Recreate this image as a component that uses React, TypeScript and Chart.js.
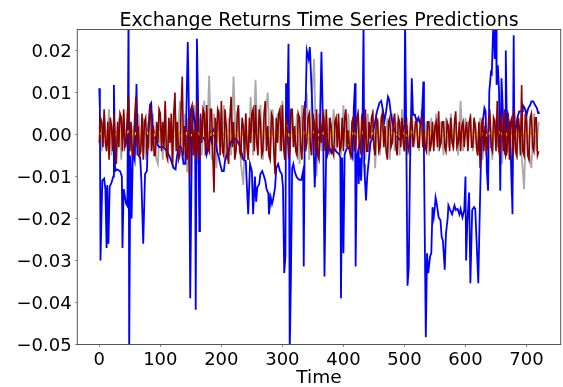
import React, { useEffect, useRef } from "react";
import { Chart, registerables } from "chart.js";

Chart.register(...registerables);

// Predicted returns (blue), sampled at the listed time steps
const blueTime = [
  0, 1, 2, 5, 8, 10, 12, 13, 15, 17, 20, 23, 24, 26, 29, 34, 37, 38, 40, 44, 46, 48, 49, 51, 53, 55, 58, 61, 63, 67,
  69, 72, 75, 78, 80, 83, 85, 87, 90, 95, 98, 101, 105, 111, 116, 122, 125, 127, 130, 133, 136, 138, 141, 145, 147,
  149, 152, 154, 157, 158, 160, 162, 164, 165, 168, 171, 174, 176, 179, 182, 184, 187, 190, 193, 196, 198, 201, 204,
  206, 209, 212, 215, 220, 225, 231, 236, 240, 244, 247, 250, 252, 255, 257, 259, 262, 264, 267, 270, 272, 274, 277,
  278, 281, 283, 285, 288, 290, 293, 296, 299, 301, 303, 305, 306, 308, 310, 311, 312, 314, 316, 318, 320, 323, 326,
  328, 331, 334, 335, 337, 338, 340, 343, 345, 348, 351, 353, 356, 358, 361, 364, 367, 369, 372, 374, 377, 380, 383,
  388, 393, 395, 396, 398, 400, 402, 405, 407, 410, 413, 415, 417, 419, 420, 422, 424, 425, 427, 429, 431, 433, 434,
  435, 437, 439, 442, 444, 447, 449, 452, 455, 459, 462, 465, 467, 470, 473, 475, 478, 481, 484, 487, 489, 492, 495,
  497, 500, 501, 503, 505, 507, 509, 512, 514, 517, 520, 523, 525, 528, 531, 532, 535, 537, 539, 542, 544, 546, 548,
  550, 551, 553, 556, 559, 561, 563, 566, 568, 571, 572, 575, 578, 580, 582, 584, 587, 590, 592, 595, 598, 600, 601,
  603, 606, 608, 611, 614, 616, 621, 623, 625, 628, 631, 633, 635, 637, 639, 642, 643, 645, 646, 648, 650, 651, 653,
  655, 657, 659, 661, 662, 665, 666, 668, 670, 673, 675, 677, 679, 680, 682, 685, 688, 690, 693, 694, 697, 700, 703,
  706, 708, 711, 714, 717, 719, 720,
];
const blueValue = [
  0.011, 0.006, -0.03, -0.011, -0.0105, -0.013, -0.027, -0.012, -0.026, -0.0125, -0.0115, -0.01, 0.0118, -0.0087,
  -0.0083, -0.0087, -0.01, -0.027, -0.013, -0.0165, -0.017, 0.03, -0.052, -0.005, -0.02, -0.004, -0.006, 0.012,
  -0.0047, -0.0055, -0.011, -0.026, -0.0094, -0.0087, 0.0, 0.007, 0.0075, 0.0024, 0.0, -0.0024, -0.003, -0.003,
  -0.003, -0.004, -0.0055, -0.008, -0.0083, -0.0055, -0.003, -0.0028, -0.0043, -0.007, -0.007, 0.022, 0.0047,
  -0.039, 0.0024, 0.0055, 0.0024, -0.0417, 0.0228, 0.0063, -0.023, 0.0, 0.0, -0.0008, -0.0016, -0.0047, -0.003, 0.0,
  -0.0016, 0.0008, -0.0008, -0.004, -0.0055, -0.007, -0.0087, -0.0087, -0.0063, -0.0047, -0.004, -0.002, -0.0008,
  -0.0012, -0.003, -0.006, -0.0063, -0.019, -0.007, -0.0087, -0.019, -0.01, -0.016, -0.0126, -0.0118, -0.0094,
  -0.0087, -0.01, -0.011, -0.013, -0.014, -0.019, -0.015, -0.0165, -0.0153, -0.0126, -0.008, -0.007, -0.0087,
  -0.0094, -0.0126, -0.033, -0.029, 0.0122, 0.0024, 0.0216, 0.0008, -0.052, -0.0346, -0.008, -0.007, -0.0087, -0.01,
  -0.0106, -0.0108, -0.0108, -0.0087, -0.0314, 0.0079, 0.0063, 0.02, 0.018, 0.0208, 0.0102, -0.0016, -0.0126,
  -0.0008, 0.0008, -0.0016, 0.0197, -0.0016, -0.0338, -0.001, -0.0047, -0.003, -0.0043, -0.003, -0.004, -0.0047,
  -0.0055, -0.039, -0.0055, -0.0283, -0.0047, -0.0035, -0.003, -0.0035, -0.0047, -0.0055, 0.0063, 0.0122, -0.0314,
  -0.0055, -0.004, -0.0118, -0.0055, -0.011, -0.0024, 0.027, -0.007, -0.01, -0.0157, -0.01, -0.0055, -0.002,
  -0.0012, 0.0008, 0.0031, 0.0055, 0.0075, 0.008, 0.0055, 0.0031, 0.0055, 0.009, 0.0083, 0.0047, 0.0024, 0.0008,
  0.0, -0.0008, -0.0012, -0.0008, -0.0008, 0.0024, 0.027, 0.0, -0.036, -0.032, -0.0087, 0.0134, 0.0047, 0.0047,
  0.0031, 0.004, 0.0028, 0.0024, 0.0126, -0.0055, -0.0483, -0.0283, -0.033, -0.029, -0.0283, -0.0173, -0.0197,
  -0.0169, -0.015, -0.0165, -0.0197, -0.0204, -0.0244, -0.0252, -0.0322, -0.0236, -0.0197, -0.0169, -0.018, -0.019,
  -0.018, -0.0169, -0.018, -0.0177, -0.019, -0.0177, -0.0197, -0.018, -0.01, -0.03, -0.021, -0.0138, -0.0354, -0.018,
  -0.0173, -0.0177, -0.0354, -0.021, -0.008, 0.0024, 0.0063, 0.0055, -0.0087, -0.0134, 0.0102, 0.0153, 0.014,
  0.0236, 0.027, 0.018, 0.026, 0.0118, 0.0165, 0.0102, -0.0134, 0.0134, 0.0063, 0.0024, -0.0047, 0.02, 0.0, 0.004,
  0.0008, -0.008, -0.019, 0.0236, -0.0008, 0.0008, 0.004, 0.0055, 0.0055, 0.0055, 0.007, 0.0063, 0.0047, 0.0063,
  0.007, 0.0079, 0.0079, 0.007, 0.0063, 0.0051, 0.0055,
];

// Actual returns (gray), every 4th time step from 0 to 720
const grayValue = [
  0.002, -0.004, 0.005, -0.003, 0.006, -0.005, 0.003, -0.002, 0.004, -0.006,
  0.005, -0.003, 0.006, -0.004, 0.002, -0.005, 0.005, -0.003, 0.004, -0.006,
  0.003, -0.004, 0.005, -0.005, -0.007, 0.004, -0.006, 0.007, -0.005, 0.003,
  -0.008, 0.006, -0.004, 0.008, -0.006, 0.005, -0.009, 0.006, -0.003, 0.007,
  -0.007, 0.004, -0.005, 0.008, -0.004, 0.014, -0.006, 0.005, -0.008, 0.006,
  -0.003, 0.007, -0.006, 0.004, -0.005, 0.0138, -0.004, 0.006, -0.007, -0.012,
  0.005, -0.006, 0.009, -0.005, 0.013, -0.004, 0.007, -0.006, 0.004, 0.01,
  -0.005, 0.006, -0.007, 0.005, -0.004, 0.008, -0.006, 0.004, -0.005, 0.006,
  -0.003, 0.005, -0.007, 0.007, -0.004, 0.01, -0.006, 0.008, 0.018, -0.01,
  0.005, -0.004, 0.006, -0.005, 0.004, -0.003, 0.006, -0.004, 0.003, -0.005,
  0.007, -0.003, 0.005, -0.006, 0.004, -0.004, 0.006, -0.005, 0.003, -0.006,
  0.005, -0.004, 0.006, -0.008, 0.004, -0.005, 0.006, -0.003, 0.004, -0.006,
  0.005, -0.004, 0.003, -0.005, 0.006, -0.004, 0.004, -0.005, 0.005, -0.003,
  0.004, -0.004, 0.006, -0.004, 0.003, -0.005, 0.004, -0.003, 0.005, -0.004,
  0.003, -0.005, 0.004, -0.003, 0.005, -0.004, 0.003, -0.005, 0.008, -0.004,
  0.004, -0.003, 0.005, -0.004, 0.003, -0.005, 0.004, -0.006, 0.003, -0.004,
  0.005, -0.006, 0.004, -0.003, 0.006, -0.007, 0.004, -0.005, 0.003, -0.015,
  0.005, -0.006, 0.004, -0.005, -0.013, 0.006, -0.004, -0.008, 0.005, -0.004,
  0.003,
];
const grayStep = 4;

// Second model (dark red), every 2nd time step from 0 to 720
const redValue = [
  -0.002, 0.004, 0.003, -0.003, 0.006, -0.002, -0.004, 0.003, -0.006, 0.004, 0.002, -0.004, 0.005, -0.002, -0.007, 0.003, -0.003, 0.005, 0.004, -0.004,
  0.006, -0.003, -0.002, 0.005, 0.009, -0.004, 0.003, -0.005, -0.005, 0.004, 0.009, -0.003, 0.002, -0.005, -0.004, 0.005, -0.006, 0.003, 0.004, -0.004,
  -0.003, 0.004, 0.007, -0.004, 0.002, -0.005, -0.005, 0.003, -0.002, 0.006, 0.005, -0.004, 0.003, -0.003, 0.008, -0.005, -0.006, 0.004, -0.002, 0.005,
  -0.007, 0.005, 0.01, -0.004, 0.003, -0.006, -0.005, 0.006, 0.0138, -0.005, 0.002, -0.004, -0.006, 0.004, -0.01, 0.006, 0.007, -0.005, 0.001, -0.006,
  0.008, -0.004, -0.006, 0.005, -0.002, 0.006, 0.005, -0.005, 0.007, -0.003, -0.004, 0.006, 0.006, -0.005, -0.0138, 0.004, -0.002, 0.006, 0.005, -0.005,
  0.008, -0.004, -0.005, 0.006, 0.002, -0.005, -0.007, 0.004, 0.009, -0.003, 0.003, -0.006, -0.004, 0.005, 0.007, -0.004, -0.005, 0.004, 0.002, -0.006,
  0.005, -0.003, -0.006, 0.004, -0.002, 0.005, 0.006, -0.004, 0.007, -0.002, -0.005, 0.006, 0.003, -0.005, -0.004, 0.005, 0.008, -0.004, 0.002, -0.005,
  -0.006, 0.005, 0.004, -0.004, -0.0095, 0.004, -0.002, 0.005, 0.006, -0.004, 0.007, -0.003, -0.006, 0.004, 0.001, -0.005, -0.004, 0.006, 0.006, -0.003,
  0.002, -0.004, -0.005, 0.005, 0.004, -0.003, -0.006, 0.004, 0.007, -0.004, -0.002, 0.004, 0.005, -0.003, -0.005, 0.005, 0.003, -0.004, 0.006, -0.005,
  -0.006, 0.003, -0.002, 0.005, 0.004, -0.004, 0.006, -0.003, -0.004, 0.004, 0.002, -0.004, -0.005, 0.003, 0.004, -0.003, 0.005, -0.004, -0.003, 0.004,
  -0.004, 0.004, 0.006, -0.003, 0.001, -0.004, -0.005, 0.003, 0.004, -0.004, -0.002, 0.004, 0.005, -0.003, -0.004, 0.004, 0.003, -0.004, 0.006, -0.004,
  -0.004, 0.003, -0.001, 0.004, 0.005, -0.003, -0.005, 0.004, 0.003, -0.004, -0.003, 0.004, 0.005, -0.003, 0.002, -0.004, -0.006, 0.003, 0.004, -0.003,
  -0.002, 0.003, 0.005, -0.003, -0.005, 0.004, 0.003, -0.003, 0.004, -0.002, -0.004, 0.003, 0.002, -0.004, -0.003, 0.003, 0.004, -0.003, -0.001, 0.003,
  0.003, -0.003, -0.003, 0.003, 0.004, -0.003, 0.001, -0.003, -0.004, 0.003, 0.003, -0.004, -0.002, 0.003, -0.004, 0.002, 0.003, -0.003, 0.0055, -0.003,
  -0.002, 0.003, 0.003, -0.003, -0.004, 0.003, 0.002, -0.004, 0.004, -0.002, -0.003, 0.003, 0.0055, -0.003, -0.002, 0.003, -0.004, 0.002, 0.003, -0.003,
  0.001, 0.003, -0.004, 0.003, 0.004, -0.003, -0.003, 0.004, 0.002, -0.003, -0.005, 0.003, -0.008, 0.002, 0.004, -0.004, 0.002, -0.004, -0.003, 0.004,
  0.005, -0.003, -0.004, 0.004, 0.003, -0.004, 0.008, -0.003, -0.005, 0.005, 0.002, -0.004, 0.006, -0.005, -0.004, 0.005, -0.006, 0.003, 0.004, -0.005,
  0.006, -0.004, -0.005, 0.004, 0.002, -0.005, 0.0118, -0.004, -0.005, 0.005, 0.003, -0.005, -0.006, 0.004, 0.005, -0.003, -0.004, 0.004, 0.004, -0.005,
  -0.004,
];
const redStep = 2;

// Third model (yellow), every 8th time step from 0 to 720
const yellowValue = [
  0.0004, -0.0003, 0.0007, -0.0002, 0.0005, -0.0004, 0.0008, -0.0001, 0.0006, -0.0003,
  0.0004, -0.0005, 0.0007, -0.0002, 0.0005, -0.0003, 0.0009, -0.0004, 0.0003, -0.0002,
  0.0006, -0.0005, 0.0004, -0.0001, 0.0007, -0.0003, 0.0005, -0.0004, 0.0006, -0.0002,
  0.0004, -0.0003, 0.0008, -0.0002, 0.0005, -0.0004, 0.0003, -0.0001, 0.0006, -0.0003,
  0.0004, -0.0002, 0.0005, -0.0004, 0.0007, -0.0002, 0.0004, -0.0003, 0.0005, -0.0001,
  0.0006, -0.0003, 0.0004, -0.0002, 0.0005, -0.0004, 0.0003, -0.0002, 0.0006, -0.0003,
  0.0004, -0.0001, 0.0005, -0.0003, 0.0007, -0.0002, 0.0004, -0.0004, 0.0005, -0.0002,
  0.0003, -0.0003, 0.0006, -0.0001, 0.0004, -0.0003, 0.0005, -0.0002, 0.0007, -0.0004,
  0.0004, -0.0002, 0.0005, -0.0003, 0.0006, -0.0002, 0.0004, -0.0003, 0.0005, -0.0001,
  0.0003,
];
const yellowStep = 8;

const xTicks = [0, 100, 200, 300, 400, 500, 600, 700];
const yTicks = [-0.05, -0.04, -0.03, -0.02, -0.01, 0, 0.01, 0.02];

const TITLE = "Exchange Returns Time Series Predictions";
const FONT = '"DejaVu Sans", "Liberation Sans", sans-serif';

const toPoints = (xs: number[], ys: number[]) => ys.map((y, i) => ({ x: xs[i], y }));
const stepTimes = (count: number, step: number) => Array.from({ length: count }, (_, i) => i * step);

// Frame around the plot area and the title centred over it
const framePlugin = {
  id: "frameAndTitle",
  afterDatasetsDraw(chart: any) {
    const { ctx, chartArea } = chart;
    const { left, right, top, bottom } = chartArea;
    ctx.save();
    ctx.strokeStyle = "#555";
    ctx.lineWidth = 1;
    ctx.strokeRect(left, top, right - left, bottom - top);
    ctx.fillStyle = "#000";
    ctx.font = `19px ${FONT}`;
    ctx.textAlign = "center";
    ctx.textBaseline = "alphabetic";
    ctx.fillText(TITLE, (left + right) / 2, 26);
    ctx.restore();
  },
};

export default function App() {
  const canvasRef = useRef<HTMLCanvasElement | null>(null);

  useEffect(() => {
    if (!canvasRef.current) return;
    const grayTime = stepTimes(grayValue.length, grayStep);
    const redTime = stepTimes(redValue.length, redStep);
    const yellowTime = stepTimes(yellowValue.length, yellowStep);

    const common = { pointRadius: 0, tension: 0, clip: 0, fill: false };

    const chart = new Chart(canvasRef.current, {
      type: "line",
      data: {
        datasets: [
          { ...common, label: "Model B", data: toPoints(redTime, redValue), borderColor: "#8b0000", borderWidth: 1.6, order: 0 },
          { ...common, label: "Model C", data: toPoints(yellowTime, yellowValue), borderColor: "#ffd700", borderWidth: 2.5, order: 1 },
          { ...common, label: "Model A", data: toPoints(blueTime, blueValue), borderColor: "#0000ff", borderWidth: 1.8, order: 2 },
          { ...common, label: "Actual", data: toPoints(grayTime, grayValue), borderColor: "#a9a9a9", borderWidth: 1.8, order: 3 },
        ],
      },
      options: {
        responsive: false,
        animation: false,
        devicePixelRatio: 1,
        layout: { padding: { top: 29.5, right: 2.3, left: 0, bottom: 0 } },
        plugins: { legend: { display: false }, title: { display: false }, tooltip: { enabled: false } },
        scales: {
          x: {
            type: "linear",
            min: -36,
            max: 756,
            afterFit: (s: any) => { s.height = 42.5; },
            afterBuildTicks: (s: any) => { s.ticks = xTicks.map((v) => ({ value: v })); },
            border: { display: false },
            grid: { drawOnChartArea: false, drawTicks: true, tickLength: 2.5, color: "#888" },
            ticks: {
              autoSkip: false,
              maxRotation: 0,
              padding: 3,
              color: "#000",
              font: { family: FONT, size: 18 },
              callback: (v: any) => String(v),
            },
            title: { display: true, text: "Time", color: "#000", font: { family: FONT, size: 18.5 }, padding: { top: 0, bottom: -2 } },
          },
          y: {
            type: "linear",
            min: -0.05,
            max: 0.025,
            afterFit: (s: any) => { s.width = 77.3; },
            afterBuildTicks: (s: any) => { s.ticks = yTicks.map((v) => ({ value: v })); },
            border: { display: false },
            grid: { drawOnChartArea: false, drawTicks: true, tickLength: 2, color: "#888" },
            ticks: {
              padding: 3.6,
              labelOffset: 1.5,
              color: "#000",
              font: { family: FONT, size: 18 },
              callback: (v: any) => Number(v).toFixed(2).replace("-", "\u2212"),
            },
          },
        },
      },
      plugins: [framePlugin],
    });
    return () => chart.destroy();
  }, []);

  return (
    <div style={{ position: "fixed", left: 0, top: 0, width: 563, height: 387, background: "#fff" }}>
      <canvas ref={canvasRef} width={563} height={387} />
    </div>
  );
}
